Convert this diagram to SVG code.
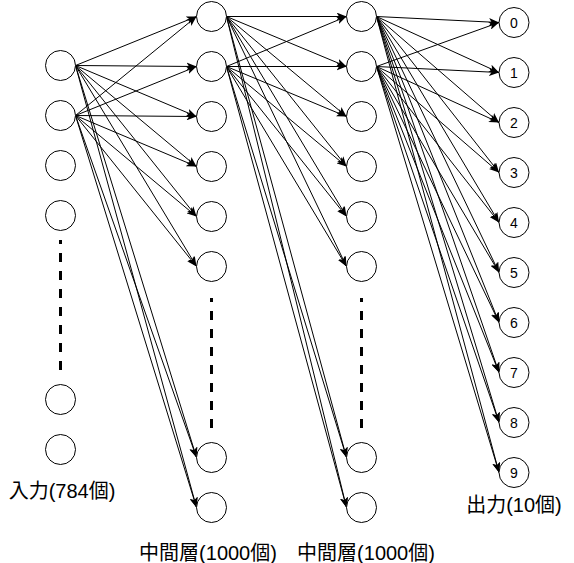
<svg xmlns="http://www.w3.org/2000/svg" width="574" height="563" viewBox="0 0 574 563">
<style>
.n{fill:#fff;stroke:#000;stroke-width:1}
.e{stroke:#000;stroke-width:1;fill:none;marker-end:url(#arr)}
.d{stroke:#000;stroke-width:3;stroke-dasharray:9 9;stroke-dashoffset:5;fill:none}
.t{font-family:"Liberation Sans","Noto Sans CJK JP",sans-serif;fill:#000;text-anchor:middle}
.lb{font-size:20px}
.nm{font-size:14px}
</style>
<defs>
<marker id="arr" markerUnits="userSpaceOnUse" markerWidth="10" markerHeight="8" refX="10" refY="4" orient="auto" viewBox="0 0 10 8">
<path d="M0,0 L10,4 L0,8 L2.5,4 Z" fill="#000"/>
</marker>
</defs>
<rect width="574" height="563" fill="#fff"/>
<g id="connectors">
<line class="e" x1="75.5" y1="65.5" x2="196.5" y2="16.5"/>
<line class="e" x1="75.5" y1="65.5" x2="196.5" y2="66.5"/>
<line class="e" x1="75.5" y1="65.5" x2="196.5" y2="116.5"/>
<line class="e" x1="75.5" y1="65.5" x2="196.5" y2="166.5"/>
<line class="e" x1="75.5" y1="65.5" x2="196.5" y2="216.5"/>
<line class="e" x1="75.5" y1="65.5" x2="196.5" y2="266.5"/>
<line class="e" x1="75.5" y1="65.5" x2="196.5" y2="457.5"/>
<line class="e" x1="75.5" y1="65.5" x2="196.5" y2="507.5"/>
<line class="e" x1="75.5" y1="115.5" x2="196.5" y2="16.5"/>
<line class="e" x1="75.5" y1="115.5" x2="196.5" y2="66.5"/>
<line class="e" x1="75.5" y1="115.5" x2="196.5" y2="116.5"/>
<line class="e" x1="75.5" y1="115.5" x2="196.5" y2="166.5"/>
<line class="e" x1="75.5" y1="115.5" x2="196.5" y2="216.5"/>
<line class="e" x1="75.5" y1="115.5" x2="196.5" y2="266.5"/>
<line class="e" x1="75.5" y1="115.5" x2="196.5" y2="457.5"/>
<line class="e" x1="75.5" y1="115.5" x2="196.5" y2="507.5"/>
<line class="e" x1="226.5" y1="16.5" x2="346.5" y2="16.5"/>
<line class="e" x1="226.5" y1="16.5" x2="346.5" y2="66.5"/>
<line class="e" x1="226.5" y1="16.5" x2="346.5" y2="116.5"/>
<line class="e" x1="226.5" y1="16.5" x2="346.5" y2="166.5"/>
<line class="e" x1="226.5" y1="16.5" x2="346.5" y2="216.5"/>
<line class="e" x1="226.5" y1="16.5" x2="346.5" y2="266.5"/>
<line class="e" x1="226.5" y1="16.5" x2="346.5" y2="457.5"/>
<line class="e" x1="226.5" y1="16.5" x2="346.5" y2="507.5"/>
<line class="e" x1="226.5" y1="66.5" x2="346.5" y2="16.5"/>
<line class="e" x1="226.5" y1="66.5" x2="346.5" y2="66.5"/>
<line class="e" x1="226.5" y1="66.5" x2="346.5" y2="116.5"/>
<line class="e" x1="226.5" y1="66.5" x2="346.5" y2="166.5"/>
<line class="e" x1="226.5" y1="66.5" x2="346.5" y2="216.5"/>
<line class="e" x1="226.5" y1="66.5" x2="346.5" y2="266.5"/>
<line class="e" x1="226.5" y1="66.5" x2="346.5" y2="457.5"/>
<line class="e" x1="226.5" y1="66.5" x2="346.5" y2="507.5"/>
<line class="e" x1="376.5" y1="16.5" x2="499" y2="22.5"/>
<line class="e" x1="376.5" y1="16.5" x2="499" y2="72.5"/>
<line class="e" x1="376.5" y1="16.5" x2="499" y2="122.5"/>
<line class="e" x1="376.5" y1="16.5" x2="499" y2="172.5"/>
<line class="e" x1="376.5" y1="16.5" x2="499" y2="222.5"/>
<line class="e" x1="376.5" y1="16.5" x2="499" y2="272.5"/>
<line class="e" x1="376.5" y1="16.5" x2="499" y2="322.5"/>
<line class="e" x1="376.5" y1="16.5" x2="499" y2="372.5"/>
<line class="e" x1="376.5" y1="16.5" x2="499" y2="422.5"/>
<line class="e" x1="376.5" y1="16.5" x2="499" y2="472.5"/>
<line class="e" x1="376.5" y1="66.5" x2="499" y2="22.5"/>
<line class="e" x1="376.5" y1="66.5" x2="499" y2="72.5"/>
<line class="e" x1="376.5" y1="66.5" x2="499" y2="122.5"/>
<line class="e" x1="376.5" y1="66.5" x2="499" y2="172.5"/>
<line class="e" x1="376.5" y1="66.5" x2="499" y2="222.5"/>
<line class="e" x1="376.5" y1="66.5" x2="499" y2="272.5"/>
<line class="e" x1="376.5" y1="66.5" x2="499" y2="322.5"/>
<line class="e" x1="376.5" y1="66.5" x2="499" y2="372.5"/>
<line class="e" x1="376.5" y1="66.5" x2="499" y2="422.5"/>
<line class="e" x1="376.5" y1="66.5" x2="499" y2="472.5"/>
</g>
<g id="input-layer">
<g id="in1"><circle class="n" cx="60.5" cy="65.5" r="15"/></g>
<g id="in2"><circle class="n" cx="60.5" cy="115.5" r="15"/></g>
<g id="in3"><circle class="n" cx="60.5" cy="165.5" r="15"/></g>
<g id="in4"><circle class="n" cx="60.5" cy="215.5" r="15"/></g>
<g id="in-dots"><line class="d" x1="60.5" y1="240" x2="60.5" y2="370"/></g>
<g id="in783"><circle class="n" cx="60.5" cy="399.5" r="15"/></g>
<g id="in784"><circle class="n" cx="60.5" cy="449.5" r="15"/></g>
<text id="in-label" class="t lb" x="62" y="498">入力(784個)</text>
</g>
<g id="hidden1-layer">
<g id="h1_1"><circle class="n" cx="211.5" cy="16.5" r="15"/></g>
<g id="h1_2"><circle class="n" cx="211.5" cy="66.5" r="15"/></g>
<g id="h1_3"><circle class="n" cx="211.5" cy="116.5" r="15"/></g>
<g id="h1_4"><circle class="n" cx="211.5" cy="166.5" r="15"/></g>
<g id="h1_5"><circle class="n" cx="211.5" cy="216.5" r="15"/></g>
<g id="h1_6"><circle class="n" cx="211.5" cy="266.5" r="15"/></g>
<g id="h1-dots"><line class="d" x1="211.5" y1="298" x2="211.5" y2="428"/></g>
<g id="h1_999"><circle class="n" cx="211.5" cy="457.5" r="15"/></g>
<g id="h1_1000"><circle class="n" cx="211.5" cy="507.5" r="15"/></g>
<text id="h1-label" class="t lb" x="208" y="560">中間層(1000個)</text>
</g>
<g id="hidden2-layer">
<g id="h2_1"><circle class="n" cx="361.5" cy="16.5" r="15"/></g>
<g id="h2_2"><circle class="n" cx="361.5" cy="66.5" r="15"/></g>
<g id="h2_3"><circle class="n" cx="361.5" cy="116.5" r="15"/></g>
<g id="h2_4"><circle class="n" cx="361.5" cy="166.5" r="15"/></g>
<g id="h2_5"><circle class="n" cx="361.5" cy="216.5" r="15"/></g>
<g id="h2_6"><circle class="n" cx="361.5" cy="266.5" r="15"/></g>
<g id="h2-dots"><line class="d" x1="361.5" y1="298" x2="361.5" y2="428"/></g>
<g id="h2_999"><circle class="n" cx="361.5" cy="457.5" r="15"/></g>
<g id="h2_1000"><circle class="n" cx="361.5" cy="507.5" r="15"/></g>
<text id="h2-label" class="t lb" x="366" y="560">中間層(1000個)</text>
</g>
<g id="output-layer">
<g id="out0"><circle class="n" cx="514" cy="22.5" r="15"/><text class="t nm" x="514" y="27.5">0</text></g>
<g id="out1"><circle class="n" cx="514" cy="72.5" r="15"/><text class="t nm" x="514" y="77.5">1</text></g>
<g id="out2"><circle class="n" cx="514" cy="122.5" r="15"/><text class="t nm" x="514" y="127.5">2</text></g>
<g id="out3"><circle class="n" cx="514" cy="172.5" r="15"/><text class="t nm" x="514" y="177.5">3</text></g>
<g id="out4"><circle class="n" cx="514" cy="222.5" r="15"/><text class="t nm" x="514" y="227.5">4</text></g>
<g id="out5"><circle class="n" cx="514" cy="272.5" r="15"/><text class="t nm" x="514" y="277.5">5</text></g>
<g id="out6"><circle class="n" cx="514" cy="322.5" r="15"/><text class="t nm" x="514" y="327.5">6</text></g>
<g id="out7"><circle class="n" cx="514" cy="372.5" r="15"/><text class="t nm" x="514" y="377.5">7</text></g>
<g id="out8"><circle class="n" cx="514" cy="422.5" r="15"/><text class="t nm" x="514" y="427.5">8</text></g>
<g id="out9"><circle class="n" cx="514" cy="472.5" r="15"/><text class="t nm" x="514" y="477.5">9</text></g>
<text id="out-label" class="t lb" x="514" y="512">出力(10個)</text>
</g>
</svg>
